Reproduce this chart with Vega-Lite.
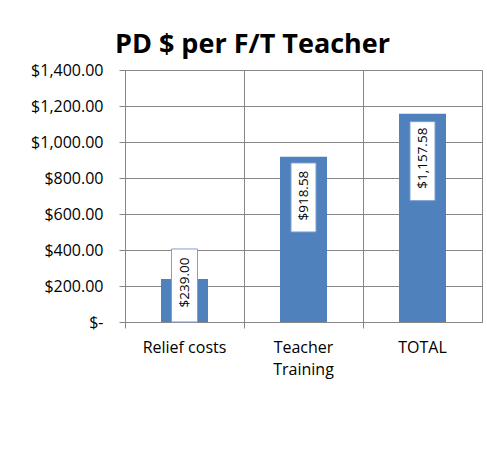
{
  "$schema": "https://vega.github.io/schema/vega-lite/v6.json",
  "autosize": {"type": "none"},
  "width": 357,
  "height": 252,
  "padding": {"left": 125, "top": 70, "right": 5, "bottom": 136},
  "background": "white",
  "config": {
    "view": {"stroke": "#868686", "strokeWidth": 1},
    "font": "Open Sans"
  },
  "title": {
    "text": "PD $ per F/T Teacher",
    "font": "Open Sans",
    "fontWeight": "bold",
    "fontSize": 27,
    "color": "#000000",
    "anchor": "middle",
    "dx": -51,
    "offset": 3
  },
  "data": {
    "values": [
      {"category": "Relief costs", "value": 239.00, "label": "$239.00"},
      {"category": "Teacher Training", "value": 918.58, "label": "$918.58"},
      {"category": "TOTAL", "value": 1157.58, "label": "$1,157.58"}
    ]
  },
  "encoding": {
    "x": {
      "field": "category",
      "type": "nominal",
      "sort": null,
      "scale": {"paddingInner": 0, "paddingOuter": 0},
      "axis": {
        "title": null,
        "bandPosition": 0,
        "labelAngle": 0,
        "labelFont": "Open Sans",
        "labelFontSize": 16,
        "labelColor": "#000000",
        "labelPadding": 11,
        "labelLineHeight": 22,
        "labelExpr": "datum.value == 'Teacher Training' ? ['Teacher', 'Training'] : datum.value",
        "tickSize": 6,
        "tickColor": "#868686",
        "domainColor": "#868686",
        "grid": true,
        "gridColor": "#868686",
        "gridOpacity": 1
      }
    },
    "y": {
      "field": "value",
      "type": "quantitative",
      "scale": {"domain": [0, 1400], "nice": false},
      "axis": {
        "title": null,
        "values": [0, 200, 400, 600, 800, 1000, 1200, 1400],
        "labelExpr": "datum.value == 0 ? '$-' : format(datum.value, '$,.2f')",
        "labelFont": "Open Sans",
        "labelFontSize": 16,
        "labelColor": "#000000",
        "labelPadding": 16,
        "tickSize": 6,
        "tickColor": "#868686",
        "domainColor": "#868686",
        "grid": true,
        "gridColor": "#868686",
        "gridOpacity": 1
      }
    }
  },
  "layer": [
    {
      "mark": {"type": "bar", "size": 47, "color": "#4F81BD"}
    },
    {
      "mark": {
        "type": "point",
        "size": 40000,
        "fill": "#FFFFFF",
        "stroke": "#7F9FCF",
        "strokeWidth": 1,
        "opacity": 1,
        "fillOpacity": 1
      },
      "encoding": {
        "shape": {
          "condition": [
            {"test": "datum.category == 'Relief costs'", "value": "M-0.13,-0.30L0.13,-0.30L0.13,0.43L-0.13,0.43Z"},
            {"test": "datum.category == 'TOTAL'", "value": "M-0.125,0.08L0.125,0.08L0.125,0.87L-0.125,0.87Z"}
          ],
          "value": "M-0.125,0.063L0.125,0.063L0.125,0.753L-0.125,0.753Z"
        }
      }
    },
    {
      "transform": [{"filter": "datum.category == 'Relief costs'"}],
      "mark": {
        "type": "text",
        "angle": -90,
        "align": "center",
        "baseline": "middle",
        "font": "Open Sans",
        "fontSize": 13.5,
        "color": "#000000",
        "yOffset": 3.5
      },
      "encoding": {"text": {"field": "label"}}
    },
    {
      "transform": [{"filter": "datum.category != 'Relief costs'"}],
      "mark": {
        "type": "text",
        "angle": -90,
        "align": "right",
        "baseline": "middle",
        "font": "Open Sans",
        "fontSize": 13.5,
        "color": "#000000",
        "yOffset": 14
      },
      "encoding": {"text": {"field": "label"}}
    }
  ]
}
